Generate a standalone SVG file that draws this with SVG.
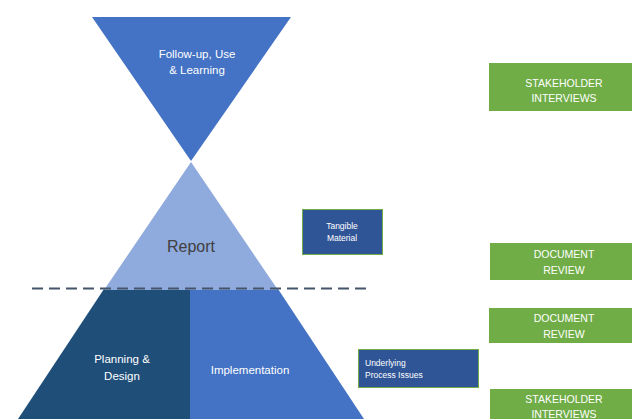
<svg xmlns="http://www.w3.org/2000/svg" width="632" height="419" viewBox="0 0 632 419">
<style>
text{font-family:"Liberation Sans","Open Sans",sans-serif}
.g rect{fill:#70AD47}
.g text{font-size:10.5px;fill:#ffffff;text-anchor:middle}
.b rect{fill:#2F5597;stroke:#70AD47;stroke-width:1}
.b text{font-size:8.5px;fill:#ffffff}
.m{font-size:11.5px;fill:#ffffff;text-anchor:middle}
</style>
<rect width="632" height="419" fill="#ffffff"/>
<g id="follow-up">
<polygon points="92,17 291,17 191,161" fill="#4472C4"/>
<text class="m" x="197" y="58">Follow-up, Use</text>
<text class="m" x="197" y="74">&amp; Learning</text>
</g>
<g id="planning">
<polygon points="104,289 190,289 190,419 18,419" fill="#1F4E79"/>
<text class="m" x="122" y="363">Planning &amp;</text>
<text class="m" x="122" y="380">Design</text>
</g>
<g id="implementation">
<polygon points="190,289 278,289 364,419 190,419" fill="#4472C4"/>
<text class="m" x="250" y="374">Implementation</text>
</g>
<g id="report">
<polygon points="191,162 278,290 104,290" fill="#8FAADC"/>
<text x="191" y="252" font-size="16" fill="#404040" text-anchor="middle">Report</text>
</g>
<g id="connectors">
<line x1="32" y1="288.5" x2="367" y2="288.5" stroke="#44546A" stroke-width="2" stroke-dasharray="11,6"/>
</g>
<g id="tangible" class="b">
<rect x="302.5" y="209.5" width="80" height="45"/>
<text x="342" y="229" text-anchor="middle">Tangible</text>
<text x="342" y="241" text-anchor="middle">Material</text>
</g>
<g id="underlying" class="b">
<rect x="358.5" y="349.5" width="120" height="38"/>
<text x="365" y="366">Underlying</text>
<text x="365" y="378">Process Issues</text>
</g>
<g id="stakeholder1" class="g">
<rect x="489" y="63" width="145" height="48"/>
<text x="564" y="87">STAKEHOLDER</text>
<text x="564" y="102">INTERVIEWS</text>
</g>
<g id="document1" class="g">
<rect x="490" y="243" width="144" height="37"/>
<text x="564" y="258">DOCUMENT</text>
<text x="564" y="274">REVIEW</text>
</g>
<g id="document2" class="g">
<rect x="489" y="308" width="145" height="35"/>
<text x="564" y="322">DOCUMENT</text>
<text x="564" y="338">REVIEW</text>
</g>
<g id="stakeholder2" class="g">
<rect x="490" y="389" width="144" height="40"/>
<text x="564" y="403">STAKEHOLDER</text>
<text x="564" y="418">INTERVIEWS</text>
</g>
</svg>
